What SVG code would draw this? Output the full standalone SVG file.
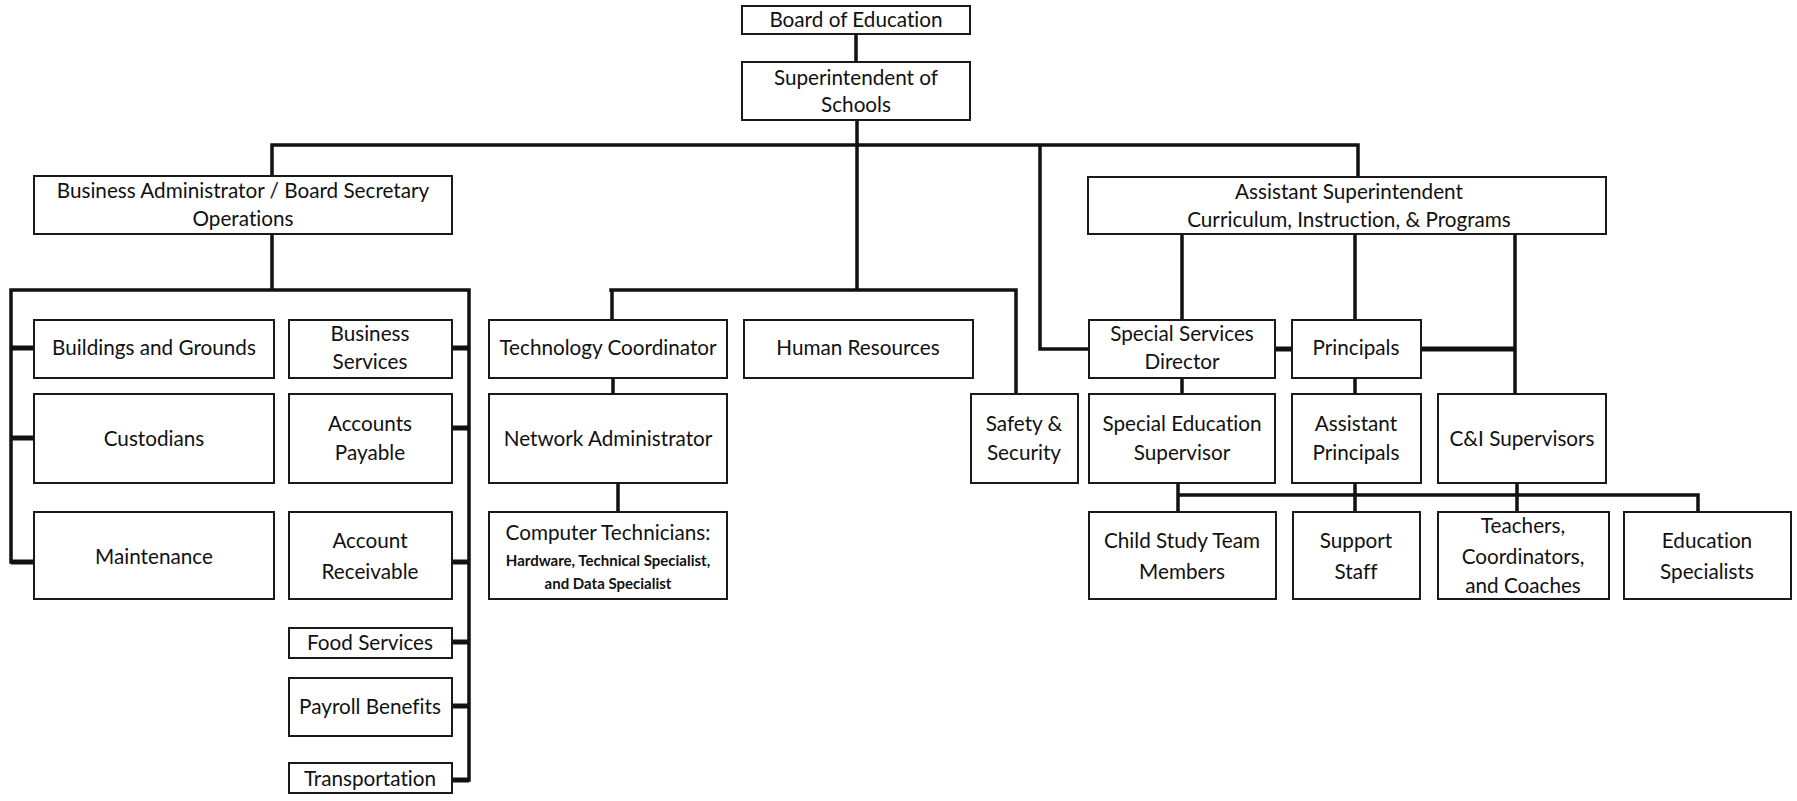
<svg xmlns="http://www.w3.org/2000/svg" width="1797" height="801" viewBox="0 0 1797 801">
<style>
.box{fill:#fff;stroke:#1a1a1a;stroke-width:2}
.t{font-family:Lato,"Liberation Sans",sans-serif;font-size:20.7px;fill:#111;text-anchor:middle;font-variant-ligatures:none}
.s{font-family:Lato,"Liberation Sans",sans-serif;font-size:15px;font-weight:bold;fill:#111;text-anchor:middle;font-variant-ligatures:none}
.c{fill:none;stroke:#111;stroke-width:3.5;stroke-linecap:square}
.st{fill:none;stroke:#111;stroke-width:5}
</style>
<rect width="1797" height="801" fill="#fff"/>
<g id="connectors">
<path class="c" d="M856 34V62M857 120V290M272 145H1358M272 145V176M1358 145V177M1040 145V349H1089M272 234V290M11 290H469M11 290V562M469 290V780M611 290H1016M612 290V320M1016 290V394M613 378V394M618 483V512M1182 234V320M1355 234V320M1515 234V394M1421 349H1515M1182 378V394M1355 378V394M1178 495H1698M1178 483V512M1355 483V512M1517 483V512M1698 495V512"/>
<path class="st" d="M11 348H34M11 438H34M11 562H34M452 348H469M452 428H469M452 562H469M452 642H469M452 706H469M452 780H469M1275 349H1292M1421 349H1515"/>
</g>
<g id="board"><rect class="box" x="742" y="6" width="228" height="28"/><text class="t" x="856" y="27">Board of Education</text></g>
<g id="super"><rect class="box" x="742" y="62" width="228" height="58"/><text class="t" x="856" y="85">Superintendent of</text><text class="t" x="856" y="112">Schools</text></g>
<g id="ba"><rect class="box" x="34" y="176" width="418" height="58"/><text class="t" x="243" y="198">Business Administrator / Board Secretary</text><text class="t" x="243" y="226">Operations</text></g>
<g id="asst"><rect class="box" x="1088" y="177" width="518" height="57"/><text class="t" x="1349" y="199">Assistant Superintendent</text><text class="t" x="1349" y="227">Curriculum, Instruction, &amp; Programs</text></g>
<g id="bg"><rect class="box" x="34" y="320" width="240" height="58"/><text class="t" x="154" y="355">Buildings and Grounds</text></g>
<g id="bs"><rect class="box" x="289" y="320" width="163" height="58"/><text class="t" x="370" y="341">Business</text><text class="t" x="370" y="369">Services</text></g>
<g id="cust"><rect class="box" x="34" y="394" width="240" height="89"/><text class="t" x="154" y="446">Custodians</text></g>
<g id="ap"><rect class="box" x="289" y="394" width="163" height="89"/><text class="t" x="370" y="431">Accounts</text><text class="t" x="370" y="460">Payable</text></g>
<g id="maint"><rect class="box" x="34" y="512" width="240" height="87"/><text class="t" x="154" y="564">Maintenance</text></g>
<g id="ar"><rect class="box" x="289" y="512" width="163" height="87"/><text class="t" x="370" y="548">Account</text><text class="t" x="370" y="579">Receivable</text></g>
<g id="food"><rect class="box" x="289" y="628" width="163" height="30"/><text class="t" x="370" y="650">Food Services</text></g>
<g id="payroll"><rect class="box" x="289" y="678" width="163" height="58"/><text class="t" x="370" y="714">Payroll Benefits</text></g>
<g id="transp"><rect class="box" x="289" y="763" width="163" height="30"/><text class="t" x="370" y="786">Transportation</text></g>
<g id="tc"><rect class="box" x="489" y="320" width="238" height="58"/><text class="t" x="608" y="355">Technology Coordinator</text></g>
<g id="hr"><rect class="box" x="744" y="320" width="229" height="58"/><text class="t" x="858" y="355">Human Resources</text></g>
<g id="na"><rect class="box" x="489" y="394" width="238" height="89"/><text class="t" x="608" y="446">Network Administrator</text></g>
<g id="ct"><rect class="box" x="489" y="512" width="238" height="87"/><text class="t" x="608" y="540">Computer Technicians:</text><text class="s" x="608" y="566">Hardware, Technical Specialist,</text><text class="s" x="608" y="589">and Data Specialist</text></g>
<g id="ss"><rect class="box" x="971" y="394" width="107" height="89"/><text class="t" x="1024" y="431">Safety &amp;</text><text class="t" x="1024" y="460">Security</text></g>
<g id="ssd"><rect class="box" x="1089" y="320" width="186" height="58"/><text class="t" x="1182" y="341">Special Services</text><text class="t" x="1182" y="369">Director</text></g>
<g id="pr"><rect class="box" x="1292" y="320" width="129" height="58"/><text class="t" x="1356" y="355">Principals</text></g>
<g id="sed"><rect class="box" x="1089" y="394" width="186" height="89"/><text class="t" x="1182" y="431">Special Education</text><text class="t" x="1182" y="460">Supervisor</text></g>
<g id="apr"><rect class="box" x="1292" y="394" width="129" height="89"/><text class="t" x="1356" y="431">Assistant</text><text class="t" x="1356" y="460">Principals</text></g>
<g id="ci"><rect class="box" x="1438" y="394" width="168" height="89"/><text class="t" x="1522" y="446">C&amp;I Supervisors</text></g>
<g id="cst"><rect class="box" x="1089" y="512" width="187" height="87"/><text class="t" x="1182" y="548">Child Study Team</text><text class="t" x="1182" y="579">Members</text></g>
<g id="sup"><rect class="box" x="1293" y="512" width="127" height="87"/><text class="t" x="1356" y="548">Support</text><text class="t" x="1356" y="579">Staff</text></g>
<g id="tch"><rect class="box" x="1438" y="512" width="171" height="87"/><text class="t" x="1523" y="533">Teachers,</text><text class="t" x="1523" y="564">Coordinators,</text><text class="t" x="1523" y="593">and Coaches</text></g>
<g id="es"><rect class="box" x="1624" y="512" width="167" height="87"/><text class="t" x="1707" y="548">Education</text><text class="t" x="1707" y="579">Specialists</text></g>
</svg>
